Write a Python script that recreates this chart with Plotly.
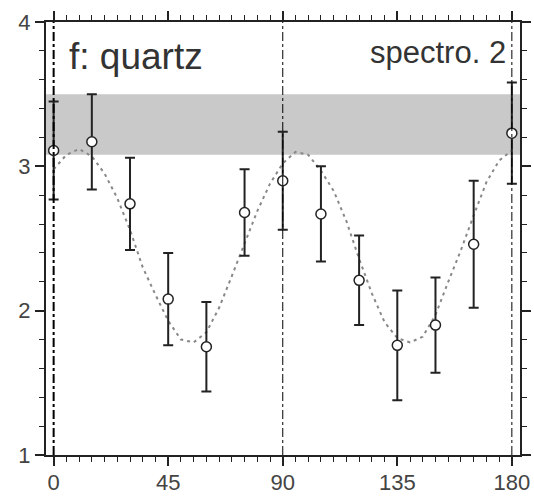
import plotly.graph_objects as go

# measured points (angle in degrees)
angles = [0, 15, 30, 45, 60, 75, 90, 105, 120, 135, 150, 165, 180]
values = [3.11, 3.17, 2.74, 2.08, 1.75, 2.68, 2.90, 2.67, 2.21, 1.76, 1.90, 2.46, 3.23]
errors = [0.34, 0.33, 0.32, 0.32, 0.31, 0.30, 0.34, 0.33, 0.31, 0.38, 0.33, 0.44, 0.35]

# dashed fit curve
fit_x = [0, 5, 10, 15, 20, 25, 30, 35, 40, 45, 50, 55, 60, 65, 70, 75, 80, 85, 90,
         95, 100, 105, 110, 115, 120, 125, 130, 135, 140, 145, 150, 155, 160, 165,
         170, 175, 180]
fit_y = [2.98, 3.08, 3.12, 3.07, 2.95, 2.78, 2.56, 2.30, 2.11, 1.93, 1.80, 1.78,
         1.85, 2.02, 2.24, 2.47, 2.69, 2.88, 3.02, 3.10, 3.08, 2.97, 2.83, 2.62,
         2.36, 2.12, 1.92, 1.81, 1.78, 1.82, 1.97, 2.20, 2.42, 2.66, 2.89, 3.04, 3.11]

band = [3.08, 3.50]
ref_angles = [0, 90, 180]

fig = go.Figure()

fig.add_trace(go.Scatter(
    x=fit_x, y=fit_y, mode="lines",
    line=dict(color="#888888", width=2, dash="3px,4px"),
    showlegend=False, hoverinfo="skip",
))

fig.add_trace(go.Scatter(
    x=angles, y=values, mode="markers",
    error_y=dict(type="data", array=errors, color="#222222", thickness=2, width=5),
    marker=dict(symbol="circle", size=10, color="white",
                line=dict(color="#222222", width=1.5)),
    showlegend=False,
))

fig.add_shape(type="rect", xref="paper", yref="y", x0=0, x1=1,
              y0=band[0], y1=band[1], fillcolor="#c9c9c9",
              line=dict(width=0), layer="below")

for a in ref_angles:
    fig.add_shape(type="line", xref="x", yref="paper", x0=a, x1=a, y0=0, y1=1,
                  line=dict(color="black", width=2 if a == 0 else 1, dash="dashdot"))

fig.add_annotation(text="f: quartz", xref="paper", yref="paper", x=0.045, y=0.972,
                   xanchor="left", yanchor="top", showarrow=False,
                   font=dict(size=37, color="#333333"))
fig.add_annotation(text="spectro. 2", xref="paper", yref="paper", x=0.975, y=0.975,
                   xanchor="right", yanchor="top", showarrow=False,
                   font=dict(size=31, color="#333333"))

axis_common = dict(
    showgrid=False, zeroline=False, showline=True, linecolor="#222222", linewidth=2,
    mirror="ticks", ticks="outside", ticklen=9, tickwidth=1.5, tickcolor="#222222",
    tickfont=dict(size=22, color="#444444"), automargin=False,
)

fig.update_layout(
    width=534, height=496,
    plot_bgcolor="white", paper_bgcolor="white",
    font=dict(family="Liberation Sans, Arial, sans-serif"),
    margin=dict(l=46, r=14, t=22, b=41),
    xaxis=dict(range=[-3, 183.2], tickvals=[0, 45, 90, 135, 180],
               ticklabelstandoff=-2,
               minor=dict(ticks="outside", dtick=5, ticklen=5, tickcolor="#222222",
                          tickwidth=1.2),
               **axis_common),
    yaxis=dict(range=[1, 4], tickvals=[1, 2, 3, 4],
               minor=dict(ticks="outside", dtick=0.2, ticklen=5, tickcolor="#222222",
                          tickwidth=1.2),
               **axis_common),
)

fig.write_html("out.html", config={"displayModeBar": False},
               post_script="document.body.style.margin='0';")
